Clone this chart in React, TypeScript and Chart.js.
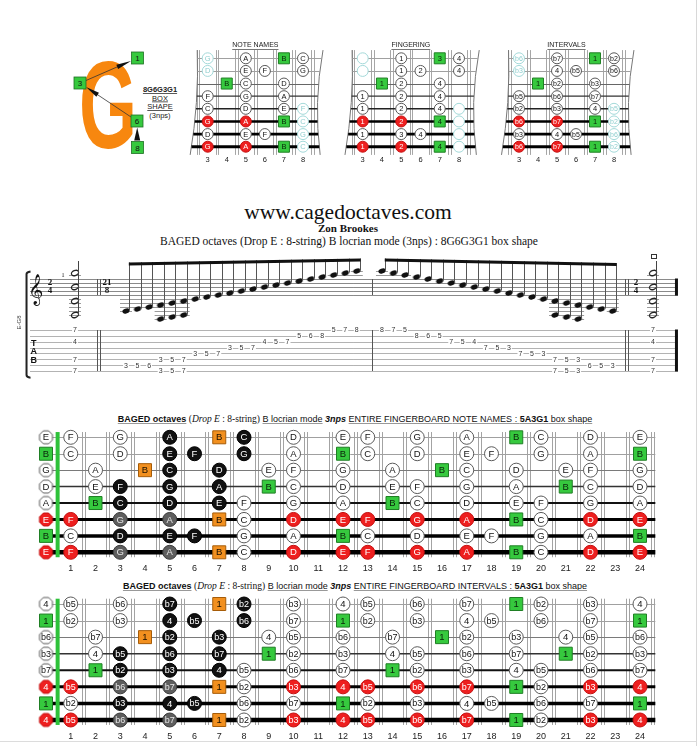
import React, { useEffect, useRef } from "react";
import { Chart, registerables } from "chart.js";

Chart.register(...registerables);

const SANS = "'Liberation Sans', Arial, Helvetica, sans-serif";
const SERIF = "'Liberation Serif', 'Times New Roman', serif";

// ================= WHOLE NECK DATA (string 1 = high E ... string 8 = low E) =================
const FRET_NUMBERS = [1, 2, 3, 4, 5, 6, 7, 8, 9, 10, 11, 12, 13, 14, 15, 16, 17, 18, 19, 20, 21, 22, 23, 24];

const S1_FRETS = [0, 1, 3, 5, 7, 8, 10, 12, 13, 15, 17, 19, 20, 22, 24];
const S1_NOTES = ["E", "F", "G", "A", "B", "C", "D", "E", "F", "G", "A", "B", "C", "D", "E"];
const S1_MARKS = ["w", "w", "w", "k", "o", "k", "w", "w", "w", "w", "w", "g", "w", "w", "w"];

const S2_FRETS = [0, 1, 3, 5, 6, 8, 10, 12, 13, 15, 17, 18, 20, 22, 24];
const S2_NOTES = ["B", "C", "D", "E", "F", "G", "A", "B", "C", "D", "E", "F", "G", "A", "B"];
const S2_MARKS = ["g", "w", "w", "k", "k", "k", "w", "g", "w", "w", "w", "w", "w", "w", "g"];

const S3_FRETS = [0, 2, 4, 5, 7, 9, 10, 12, 14, 16, 17, 19, 21, 22, 24];
const S3_NOTES = ["G", "A", "B", "C", "D", "E", "F", "G", "A", "B", "C", "D", "E", "F", "G"];
const S3_MARKS = ["w", "w", "o", "k", "k", "w", "w", "w", "w", "g", "w", "w", "w", "w", "w"];

const S4_FRETS = [0, 2, 3, 5, 7, 9, 10, 12, 14, 15, 17, 19, 21, 22, 24];
const S4_NOTES = ["D", "E", "F", "G", "A", "B", "C", "D", "E", "F", "G", "A", "B", "C", "D"];
const S4_MARKS = ["w", "w", "k", "k", "k", "g", "w", "w", "w", "w", "w", "w", "g", "w", "w"];

const S5_FRETS = [0, 2, 3, 5, 7, 8, 10, 12, 14, 15, 17, 19, 20, 22, 24];
const S5_NOTES = ["A", "B", "C", "D", "E", "F", "G", "A", "B", "C", "D", "E", "F", "G", "A"];
const S5_MARKS = ["w", "g", "k", "k", "k", "w", "w", "w", "g", "w", "w", "w", "w", "w", "w"];

const S6_FRETS = [0, 1, 3, 5, 7, 8, 10, 12, 13, 15, 17, 19, 20, 22, 24];
const S6_NOTES = ["E", "F", "G", "A", "B", "C", "D", "E", "F", "G", "A", "B", "C", "D", "E"];
const S6_MARKS = ["r", "r", "d", "d", "o", "w", "r", "r", "r", "r", "r", "g", "w", "r", "r"];

const S7_FRETS = [0, 1, 3, 5, 6, 8, 10, 12, 13, 15, 17, 18, 20, 22, 24];
const S7_NOTES = ["B", "C", "D", "E", "F", "G", "A", "B", "C", "D", "E", "F", "G", "A", "B"];
const S7_MARKS = ["g", "w", "k", "k", "k", "w", "w", "g", "w", "w", "w", "w", "w", "w", "g"];

const S8_FRETS = [0, 1, 3, 5, 7, 8, 10, 12, 13, 15, 17, 19, 20, 22, 24];
const S8_NOTES = ["E", "F", "G", "A", "B", "C", "D", "E", "F", "G", "A", "B", "C", "D", "E"];
const S8_MARKS = ["r", "r", "d", "d", "o", "w", "r", "r", "r", "r", "r", "g", "w", "r", "r"];

const NECK_FRETS = [S1_FRETS, S2_FRETS, S3_FRETS, S4_FRETS, S5_FRETS, S6_FRETS, S7_FRETS, S8_FRETS];
const NECK_NOTES = [S1_NOTES, S2_NOTES, S3_NOTES, S4_NOTES, S5_NOTES, S6_NOTES, S7_NOTES, S8_NOTES];
const NECK_MARKS = [S1_MARKS, S2_MARKS, S3_MARKS, S4_MARKS, S5_MARKS, S6_MARKS, S7_MARKS, S8_MARKS];

// B locrian intervals
const INTERVAL_OF: Record<string, string> = { B: "1", C: "b2", D: "b3", E: "4", F: "b5", G: "b6", A: "b7" };

// ================= BOX SHAPE DIAGRAMS (frets 3-8) =================
const BOX_FRET_NUMBERS = [3, 4, 5, 6, 7, 8];
const BOX_FRETS = [[3, 5, 7, 8], [3, 5, 6, 8], [4, 5, 7], [3, 5, 7], [3, 5, 7, 8], [3, 5, 7, 8], [3, 5, 6, 8], [3, 5, 7, 8]];
const BOX_NOTES = [["G", "A", "B", "C"], ["D", "E", "F", "G"], ["B", "C", "D"], ["F", "G", "A"], ["C", "D", "E", "F"], ["G", "A", "B", "C"], ["D", "E", "F", "G"], ["G", "A", "B", "C"]];
const BOX_MARKS = [["f", "w", "g", "w"], ["f", "w", "w", "w"], ["g", "w", "w"], ["w", "w", "w"], ["w", "w", "w", "f"], ["r", "r", "g", "f"], ["w", "w", "w", "f"], ["r", "r", "g", "f"]];
const BOX_FINGERS = [["", "1", "3", "4"], ["", "1", "2", "4"], ["1", "2", "4"], ["1", "2", "4"], ["1", "2", "4", ""], ["1", "2", "4", ""], ["1", "3", "4", ""], ["1", "2", "4", ""]];

// ================= STAFF / TAB DATA =================
const ASC_NOTES = ["D3", "E3", "F3", "G2 G3", "A2 A3", "B2 B3", "C4", "D4", "E4", "F4", "G4", "A4", "B4", "C5", "D5", "E5", "F5", "G5", "A5", "B5", "C6"];
const ASC_TAB = ["7:3", "7:5", "7:6", "8:3 6:3", "8:5 6:5", "8:7 6:7", "5:3", "5:5", "5:7", "4:3", "4:5", "4:7", "3:4", "3:5", "3:7", "2:5", "2:6", "2:8", "1:5", "1:7", "1:8"];
const DESC_NOTES = ["C6", "B5", "A5", "G5", "F5", "E5", "D5", "C5", "B4", "A4", "G4", "F4", "E4", "D4", "C4", "B2 B3", "A2 A3", "G2 G3", "F3", "E3", "D3"];
const DESC_TAB = ["1:8", "1:7", "1:5", "2:8", "2:6", "2:5", "3:7", "3:5", "3:4", "4:7", "4:5", "4:3", "5:7", "5:5", "5:3", "6:7 8:7", "6:5 8:5", "6:3 8:3", "7:6", "7:5", "7:3"];
const CHORD_NOTES = ["B2", "B3", "B4", "B5"];
const CHORD_TAB = "1:7 3:4 6:7 8:7";

// positions along the staff (in eighth-note slots)
const MEASURE2_START = 22.18;
const CHORD_POS = [-4.42, 45.67];
const ASC_BEAM = [46.25, 48.25];
const DESC_BEAM = [48.25, 46.0];

// ================= COLOURS =================
const MARK_FILL: Record<string, string> = { w: "#ffffff", k: "#111111", d: "#5e5e5e", r: "#ee1f1f", g: "#36c93e", o: "#f2901f", f: "#ffffff" };
const MARK_LINE: Record<string, string> = { w: "#5a5a5a", k: "#000000", d: "#3a3a3a", r: "#c41010", g: "#1f7f24", o: "#a65c08", f: "#a3d9d9" };
const MARK_TEXT: Record<string, string> = { w: "#111111", k: "#ffffff", d: "#e6e6e6", r: "#ffffff", g: "#0a240a", o: "#1a1000", f: "#8fcfcf" };

type Pt = { x: number; y: number; label: string; mark: string; open?: boolean };

const BIG_STYLE = {
  r: 7, sq: 13, font: 9.5,
  stringW: [1, 1, 1, 1.5, 2, 3, 3.5, 4.5],
  stringC: ["#a0a0a0", "#a0a0a0", "#7a7a7a", "#333", "#111", "#000", "#000", "#000"],
  fretGap: 3, fretColor: "#a3a3a3",
};
const SMALL_STYLE = {
  r: 5.5, sq: 11, font: 7.5,
  stringW: [1, 1, 1, 1.2, 1.5, 2.5, 2.6, 3],
  stringC: ["#a0a0a0", "#a0a0a0", "#666", "#333", "#222", "#000", "#000", "#000"],
  fretGap: 2.5, fretColor: "#a6a6a6",
};

const octCache: Record<string, HTMLCanvasElement> = {};
function octagon(mark: string, r: number) {
  const key = mark + r;
  if (octCache[key]) return octCache[key];
  const size = Math.ceil(r * 2 + 3);
  const c = document.createElement("canvas");
  c.width = size; c.height = size;
  const g = c.getContext("2d")!;
  g.translate(size / 2, size / 2);
  g.beginPath();
  for (let i = 0; i < 8; i++) {
    const a = Math.PI / 8 + (i * Math.PI) / 4;
    const px = Math.cos(a) * r, py = Math.sin(a) * r;
    if (i === 0) g.moveTo(px, py); else g.lineTo(px, py);
  }
  g.closePath();
  g.fillStyle = MARK_FILL[mark]; g.fill();
  g.lineWidth = 1; g.strokeStyle = MARK_LINE[mark]; g.stroke();
  octCache[key] = c;
  return c;
}

function buildDatasets(points: Pt[], st: any) {
  const order = ["w", "f", "d", "k", "r", "g", "o"];
  return order.map((m) => {
    const square = m === "g" || m === "o";
    return {
      label: m,
      data: points.filter((p) => p.mark === m),
      showLine: false,
      pointStyle: (c: any) => {
        const p = c.raw as Pt | undefined;
        if (square) return "rect";
        if (p && p.open) return octagon(m, st.r);
        return "circle";
      },
      pointRadius: square ? st.sq / Math.SQRT2 : st.r,
      backgroundColor: MARK_FILL[m],
      borderColor: MARK_LINE[m],
      borderWidth: 1,
    };
  });
}

const BASE_OPTIONS = {
  animation: false,
  responsive: false,
  maintainAspectRatio: false,
  events: [],
  layout: { padding: 0, autoPadding: false },
  plugins: { legend: { display: false }, tooltip: { enabled: false }, title: { display: false } },
};

function boardChart(cfg: any) {
  const st = cfg.style;
  const xMin = cfg.fref + (cfg.left - cfg.x0) / cfg.dx;
  const xMax = cfg.fref + (cfg.left + cfg.width - cfg.x0) / cfg.dx;
  const yMin = 1 + (cfg.top - cfg.y0) / cfg.dy;
  const yMax = 1 + (cfg.top + cfg.height - cfg.y0) / cfg.dy;
  const quad = (p: number[][], t: number) =>
    (1 - t) * (1 - t) * p[0][0] + 2 * t * (1 - t) * p[1][0] + t * t * p[2][0];
  const plugin = {
    id: "board",
    beforeDatasetsDraw(chart: any) {
      const ctx = chart.ctx;
      const X = (v: number) => chart.scales.x.getPixelForValue(v);
      const Y = (v: number) => chart.scales.y.getPixelForValue(v);
      ctx.save();
      ctx.lineWidth = 1;
      ctx.strokeStyle = st.fretColor;
      for (const f of cfg.fretLines) {
        const xc = X(f);
        for (const o of [-st.fretGap / 2, st.fretGap / 2]) {
          const xx = Math.round(xc + o) + 0.5;
          ctx.beginPath();
          ctx.moveTo(xx, Y(cfg.fretTop));
          ctx.lineTo(xx, Y(cfg.fretBottom));
          ctx.stroke();
        }
      }
      const span = cfg.fretBottom - cfg.fretTop;
      if (cfg.edges) {
        ctx.strokeStyle = "#777";
        for (const e of cfg.edges) {
          ctx.beginPath();
          ctx.moveTo(X(e[0][0]), Y(e[0][1]));
          ctx.quadraticCurveTo(X(e[1][0]), Y(e[1][1]), X(e[2][0]), Y(e[2][1]));
          ctx.stroke();
        }
      }
      for (let s = 1; s <= 8; s++) {
        const w = st.stringW[s - 1];
        ctx.lineWidth = w;
        ctx.strokeStyle = st.stringC[s - 1];
        let y = Y(s);
        if (w <= 1) y = Math.round(y) + 0.5;
        let from = cfg.stringFrom, to = cfg.stringTo;
        if (cfg.edges) {
          const t = (s - cfg.fretTop) / span;
          from = quad(cfg.edges[0], t);
          to = quad(cfg.edges[1], t);
        }
        ctx.beginPath();
        ctx.moveTo(X(from), y);
        ctx.lineTo(X(to), y);
        ctx.stroke();
      }
      if (cfg.nut != null) {
        ctx.lineWidth = 4;
        ctx.strokeStyle = "#2ec23a";
        ctx.beginPath();
        ctx.moveTo(X(cfg.nut), Y(cfg.fretTop));
        ctx.lineTo(X(cfg.nut), Y(cfg.fretBottom));
        ctx.stroke();
      }
      ctx.restore();
    },
    afterDatasetsDraw(chart: any) {
      const ctx = chart.ctx;
      const X = (v: number) => chart.scales.x.getPixelForValue(v);
      const Y = (v: number) => chart.scales.y.getPixelForValue(v);
      ctx.save();
      ctx.textAlign = "center";
      ctx.textBaseline = "middle";
      chart.data.datasets.forEach((ds: any, i: number) => {
        const meta = chart.getDatasetMeta(i);
        meta.data.forEach((el: any, j: number) => {
          const p = ds.data[j] as Pt;
          if (!p.label) return;
          const fs = p.label.length > 1 ? st.font - 0.5 : st.font;
          ctx.font = `${fs}px ${SANS}`;
          ctx.fillStyle = MARK_TEXT[p.mark];
          ctx.fillText(p.label, el.x, el.y + 0.5);
        });
      });
      ctx.fillStyle = "#222";
      ctx.font = `${cfg.numberFont}px ${SANS}`;
      for (const n of cfg.numbers) ctx.fillText(String(n), X(n), Y(cfg.numberRow));
      if (cfg.title) {
        ctx.font = `${cfg.numberFont - 0.5}px ${SANS}`;
        const tx = X(cfg.titleX), ty = Y(cfg.titleRow);
        ctx.fillStyle = "#222";
        ctx.fillText(cfg.title, tx, ty);
        const w = ctx.measureText(cfg.title).width;
        ctx.strokeStyle = "#777";
        ctx.lineWidth = 1;
        ctx.beginPath();
        ctx.moveTo(tx - w / 2, Math.round(ty + 4) + 0.5);
        ctx.lineTo(tx + w / 2, Math.round(ty + 4) + 0.5);
        ctx.stroke();
      }
      ctx.restore();
    },
  };
  return {
    type: "scatter",
    data: { datasets: buildDatasets(cfg.points, st) },
    options: {
      ...BASE_OPTIONS,
      scales: {
        x: { type: "linear", display: false, min: xMin, max: xMax },
        y: { type: "linear", display: false, min: yMin, max: yMax, reverse: true },
      },
    },
    plugins: [plugin],
  };
}

function neckPoints(useIntervals: boolean): Pt[] {
  const pts: Pt[] = [];
  NECK_FRETS.forEach((frets, s) => {
    frets.forEach((f, k) => {
      const note = NECK_NOTES[s][k];
      pts.push({ x: f, y: s + 1, label: useIntervals ? INTERVAL_OF[note] : note, mark: NECK_MARKS[s][k], open: f === 0 });
    });
  });
  return pts;
}

function boxPoints(kind: string): Pt[] {
  const pts: Pt[] = [];
  BOX_FRETS.forEach((frets, s) => {
    frets.forEach((f, k) => {
      const note = BOX_NOTES[s][k];
      const label = kind === "notes" ? note : kind === "fingers" ? BOX_FINGERS[s][k] : INTERVAL_OF[note];
      pts.push({ x: f, y: s + 1, label, mark: BOX_MARKS[s][k] });
    });
  });
  return pts;
}

function ChartBox({ left, top, width, height, build }: any) {
  const ref = useRef<HTMLCanvasElement>(null);
  useEffect(() => {
    const chart = new Chart(ref.current as HTMLCanvasElement, build());
    return () => chart.destroy();
  }, []);
  return <canvas ref={ref} width={width} height={height} style={{ position: "absolute", left, top, width, height }} />;
}

function bigBoardCfg(top: number, y0: number, dy: number, useIntervals: boolean) {
  return {
    left: 4, top, width: 684, height: 746 - top > 156 ? 156 : 746 - top,
    x0: 46, fref: 0, dx: 24.75, y0, dy,
    style: BIG_STYLE,
    points: neckPoints(useIntervals),
    fretLines: FRET_NUMBERS.map((n) => n + 0.5),
    fretTop: 0.68, fretBottom: 8.3,
    stringFrom: 0, stringTo: 24.62,
    nut: 0.47,
    numbers: FRET_NUMBERS, numberRow: 9, numberFont: 9,
  };
}

function smallBoardCfg(x0: number, dx: number, kind: string, title: string) {
  const left = Math.round(x0 - 1.3 * dx);
  return {
    left, top: 34, width: Math.round(7.9 * dx), height: 132,
    x0, fref: 3, dx, y0: 58.3, dy: 12.63,
    style: SMALL_STYLE,
    points: boxPoints(kind),
    fretLines: [2.5, 3.5, 4.5, 5.5, 6.5, 7.5, 8.5],
    fretTop: 0.35, fretBottom: 8.65,
    edges: [
      [[2.45, 0.35], [2.55, 4.5], [2.08, 8.65]],
      [[9.05, 0.35], [8.55, 4.5], [8.9, 8.65]],
    ],
    numbers: BOX_FRET_NUMBERS, numberRow: 9.05, numberFont: 7.5,
    title, titleX: 5.5, titleRow: -0.05,
  };
}

// ---------------- staff + tab ----------------
const LETTERS = "CDEFGAB";
const dia = (p: string) => LETTERS.indexOf(p[0]) + 7 * parseInt(p.slice(1), 10);
const parseTab = (t: string) => t.split(" ").map((x) => x.split(":").map(Number));

function headImage(filled: boolean) {
  const c = document.createElement("canvas");
  c.width = 10; c.height = 8;
  const g = c.getContext("2d")!;
  g.translate(5, 4);
  g.rotate(-0.38);
  g.beginPath();
  g.ellipse(0, 0, 3.7, 2.5, 0, 0, Math.PI * 2);
  if (filled) { g.fillStyle = "#111"; g.fill(); }
  else { g.lineWidth = 1.2; g.strokeStyle = "#222"; g.stroke(); }
  return c;
}

function staffChart() {
  const TOP = 248, H = 134, W = 700;
  const PX0 = 126, PDX = 11.54;
  const xMin = -PX0 / PDX, xMax = (W - PX0) / PDX;
  const ysMax = 38 + (279 - TOP) / 2, ysMin = 38 - (TOP + H - 279) / 2;
  const TS = 41 / 7;
  const ytMin = 1 + (TOP - 330) / TS, ytMax = 1 + (TOP + H - 330) / TS;

  const events = [
    ...ASC_NOTES.map((n, i) => ({ v: i, d: n.split(" ").map(dia), tab: parseTab(ASC_TAB[i]), g: 0 })),
    ...DESC_NOTES.map((n, j) => ({ v: MEASURE2_START + j, d: n.split(" ").map(dia), tab: parseTab(DESC_TAB[j]), g: 1 })),
  ];
  const chords = CHORD_POS.map((v) => ({ v, d: CHORD_NOTES.map(dia), tab: parseTab(CHORD_TAB) }));

  const heads: any[] = [];
  events.forEach((e) => e.d.forEach((d) => heads.push({ x: e.v, y: d })));
  const hollow: any[] = [];
  chords.forEach((e) => e.d.forEach((d) => hollow.push({ x: e.v, y: d })));
  const tabs: any[] = [];
  [...events, ...chords].forEach((e) => e.tab.forEach(([s, f]) => tabs.push({ x: e.v, y: s, label: String(f) })));

  const LINE_START = -8.32, LINE_END = 47.83;
  const THIN_BARS = [-2.51, -2.29, 21.32, 43.24, 43.5];
  const FINAL_BAR = 47.7;

  const plugin = {
    id: "staff",
    beforeDatasetsDraw(chart: any) {
      const ctx = chart.ctx;
      const X = (v: number) => chart.scales.x.getPixelForValue(v);
      const S = (d: number) => chart.scales.ys.getPixelForValue(d);
      const T = (s: number) => chart.scales.yt.getPixelForValue(s);
      const hl = (x1: number, x2: number, y: number, c: string) => {
        ctx.strokeStyle = c; ctx.lineWidth = 1;
        ctx.beginPath(); ctx.moveTo(x1, Math.round(y) + 0.5); ctx.lineTo(x2, Math.round(y) + 0.5); ctx.stroke();
      };
      const vl = (x: number, y1: number, y2: number, c: string, w = 1) => {
        ctx.strokeStyle = c; ctx.lineWidth = w;
        const xx = w === 1 ? Math.round(x) + 0.5 : x;
        ctx.beginPath(); ctx.moveTo(xx, y1); ctx.lineTo(xx, y2); ctx.stroke();
      };
      ctx.save();
      for (const d of [30, 32, 34, 36, 38]) hl(X(LINE_START), X(LINE_END), S(d), "#8a8a8a");
      for (let s = 1; s <= 8; s++) hl(X(LINE_START), X(LINE_END), T(s), "#b3b3b3");
      // ledger lines
      for (const e of [...events, ...chords]) {
        for (const d of e.d) {
          for (let l = 28; l >= d; l -= 2) hl(X(e.v) - 6, X(e.v) + 6, S(l), "#9a9a9a");
          for (let l = 40; l <= d; l += 2) hl(X(e.v) - 6, X(e.v) + 6, S(l), "#9a9a9a");
        }
      }
      // bar lines
      for (const b of THIN_BARS) {
        vl(X(b), S(38), S(30), "#555");
        vl(X(b), T(1), T(8), "#555");
      }
      vl(X(FINAL_BAR), S(38) - 0.5, S(30) + 0.5, "#111", 3);
      vl(X(FINAL_BAR), T(1) - 0.5, T(8) + 0.5, "#111", 3);
      // bracket
      const bx = X(-8.62);
      ctx.strokeStyle = "#222"; ctx.lineWidth = 2;
      ctx.beginPath();
      ctx.moveTo(bx + 4, S(41.8));
      ctx.quadraticCurveTo(bx, S(41.5), bx, S(40.5));
      ctx.lineTo(bx, T(8.7));
      ctx.quadraticCurveTo(bx, T(9.1), bx + 4, T(9.15));
      ctx.stroke();
      // clef
      ctx.fillStyle = "#111";
      ctx.textAlign = "center";
      ctx.textBaseline = "alphabetic";
      ctx.font = `26px 'DejaVu Sans', 'Noto Sans', serif`;
      ctx.fillText("\u{1D11E}", X(-7.8), S(28.5));
      // time signatures
      ctx.textBaseline = "middle";
      ctx.font = `bold 9px ${SERIF}`;
      const tsig = (v: number, a: string, b: string) => {
        ctx.fillText(a, X(v), S(36));
        ctx.fillText(b, X(v), S(32));
      };
      tsig(-6.59, "2", "4");
      tsig(-1.65, "21", "8");
      tsig(44.19, "2", "4");
      // measure number
      ctx.font = `6px ${SERIF}`;
      ctx.fillText("1", X(-5.46), S(40));
      // TAB letters
      ctx.font = `bold 9px ${SANS}`;
      ctx.fillText("T", X(-8.0), T(3.3));
      ctx.fillText("A", X(-8.0), T(4.75));
      ctx.fillText("B", X(-8.0), T(6.2));
      // tuning label
      ctx.save();
      ctx.translate(X(-9.2), T(-0.3));
      ctx.rotate(-Math.PI / 2);
      ctx.font = `6px ${SANS}`;
      ctx.fillStyle = "#444";
      ctx.fillText("E-G8", 0, 0);
      ctx.restore();
      ctx.restore();
    },
    afterDatasetsDraw(chart: any) {
      const ctx = chart.ctx;
      const X = (v: number) => chart.scales.x.getPixelForValue(v);
      const S = (d: number) => chart.scales.ys.getPixelForValue(d);
      const T = (s: number) => chart.scales.yt.getPixelForValue(s);
      ctx.save();
      // stems + beams
      const groups = [events.filter((e) => e.g === 0), events.filter((e) => e.g === 1)];
      const beams = [ASC_BEAM, DESC_BEAM];
      groups.forEach((grp, gi) => {
        const xa = X(grp[0].v) + 3.3, xb = X(grp[grp.length - 1].v) + 3.3;
        const ya = S(beams[gi][0]), yb = S(beams[gi][1]);
        const beamY = (x: number) => ya + ((x - xa) / (xb - xa)) * (yb - ya);
        ctx.strokeStyle = "#555"; ctx.lineWidth = 1;
        for (const e of grp) {
          const x = Math.round(X(e.v) + 3.3) + 0.5;
          ctx.beginPath();
          ctx.moveTo(x, S(Math.min(...e.d)) - 0.5);
          ctx.lineTo(x, beamY(x));
          ctx.stroke();
        }
        ctx.fillStyle = "#111";
        ctx.beginPath();
        ctx.moveTo(xa - 0.5, ya); ctx.lineTo(xb + 0.5, yb);
        ctx.lineTo(xb + 0.5, yb + 3); ctx.lineTo(xa - 0.5, ya + 3);
        ctx.closePath(); ctx.fill();
      });
      // half-note chord stems
      ctx.strokeStyle = "#444"; ctx.lineWidth = 1;
      for (const c of chords) {
        const x = Math.round(X(c.v) + 3.3) + 0.5;
        ctx.beginPath(); ctx.moveTo(x, S(Math.min(...c.d))); ctx.lineTo(x, S(47)); ctx.stroke();
      }
      // bow mark above last chord
      const bx = X(CHORD_POS[1]) + 1, by = S(49.5);
      ctx.strokeStyle = "#333"; ctx.lineWidth = 1;
      ctx.strokeRect(Math.round(bx - 3) + 0.5, Math.round(by - 2) + 0.5, 5, 4);
      // tab numbers
      ctx.font = `7px ${SANS}`;
      ctx.textAlign = "center";
      ctx.textBaseline = "middle";
      for (const t of tabs) {
        const x = X(t.x), y = T(t.y);
        const w = ctx.measureText(t.label).width + 2;
        ctx.fillStyle = "#fff";
        ctx.fillRect(x - w / 2, y - 3.5, w, 7);
        ctx.fillStyle = "#333";
        ctx.fillText(t.label, x, y + 0.5);
      }
      ctx.restore();
    },
  };

  return {
    type: "scatter",
    data: {
      datasets: [
        { label: "notes", data: heads, yAxisID: "ys", pointStyle: headImage(true), pointRadius: 4, showLine: false },
        { label: "chord", data: hollow, yAxisID: "ys", pointStyle: headImage(false), pointRadius: 4, showLine: false },
        { label: "tab", data: tabs, yAxisID: "yt", pointRadius: 0, showLine: false },
      ],
    },
    options: {
      ...BASE_OPTIONS,
      scales: {
        x: { type: "linear", display: false, min: xMin, max: xMax },
        ys: { type: "linear", axis: "y", display: false, min: ysMin, max: ysMax },
        yt: { type: "linear", axis: "y", display: false, min: ytMin, max: ytMax, reverse: true },
      },
    },
    plugins: [plugin],
  };
}

function arrowHead(x1: number, y1: number, x2: number, y2: number, len: number, hw: number) {
  const dx = x2 - x1, dy = y2 - y1;
  const l = Math.hypot(dx, dy);
  const ux = dx / l, uy = dy / l;
  const bx = x2 - ux * len, by = y2 - uy * len;
  return `${x2},${y2} ${bx - uy * hw},${by + ux * hw} ${bx + uy * hw},${by - ux * hw}`;
}

function Logo() {
  const boxes: [string, number, number][] = [["1", 137.5, 58], ["3", 80, 83], ["6", 137, 121], ["8", 137.5, 147.5]];
  return (
    <svg width={200} height={170} style={{ position: "absolute", left: 0, top: 0 }}>
      <text x={79} y={148} fontFamily="'Liberation Sans', Arial" fontWeight="bold" fontSize={124} fill="#f7870f" textLength={58} lengthAdjust="spacingAndGlyphs">G</text>
      <line x1={86} y1={80.5} x2={125} y2={63.5} stroke="#333" strokeWidth={0.8} />
      <polygon points={arrowHead(86, 80.5, 131, 61, 15, 2.3)} fill="#111" />
      <line x1={131} y1={117} x2={92} y2={91} stroke="#333" strokeWidth={0.8} />
      <polygon points={arrowHead(131, 117, 86, 87, 14, 2.3)} fill="#111" />
      <polygon points={arrowHead(137.2, 141, 137.2, 127.5, 13, 3)} fill="#111" />
      {boxes.map(([t, x, y]) => (
        <g key={t}>
          <rect x={x - 6} y={y - 6} width={12} height={12} fill="#36c93e" stroke="#1f6f24" strokeWidth={0.8} />
          <text x={x} y={y + 3} textAnchor="middle" fontFamily={SANS} fontSize={8} fill="#111">{t}</text>
        </g>
      ))}
      <g fontFamily={SANS} fontSize={7.5} fill="#222" textAnchor="middle">
        <text x={160} y={92} fontWeight="bold" textDecoration="underline">8G6G3G1</text>
        <text x={160} y={100.5} textDecoration="underline">BOX</text>
        <text x={160} y={109} textDecoration="underline">SHAPE</text>
        <text x={160} y={117.5}>(3nps)</text>
      </g>
    </svg>
  );
}

function BigTitle({ top, kind }: { top: number; kind: string }) {
  const u: any = { textDecoration: "underline", textDecorationColor: "#999" };
  return (
    <div style={{ position: "absolute", left: 0, top, width: 710, textAlign: "center", fontFamily: SANS, fontSize: 9, lineHeight: "11px", color: "#111", whiteSpace: "nowrap" }}>
      <span style={{ ...u, fontWeight: "bold" }}>BAGED octaves</span>{" "}
      <span style={{ fontFamily: SERIF, fontSize: 9.5 }}>(<i>Drop E</i> : 8-string)</span>{" "}
      <span style={u}>B locrian mode</span>{" "}
      <b><i>3nps</i></b>{" "}
      <span style={u}>ENTIRE FINGERBOARD {kind} : <b>5A3G1</b> box shape</span>
    </div>
  );
}

export default function App() {
  return (
    <div style={{ position: "absolute", left: 0, top: 0, width: 700, height: 746, background: "#fff", overflow: "hidden" }}>
      <Logo />
      <ChartBox {...smallBoardCfg(207.7, 19.06, "notes", "NOTE NAMES")} build={() => boardChart(smallBoardCfg(207.7, 19.06, "notes", "NOTE NAMES"))} />
      <ChartBox {...smallBoardCfg(362.7, 19.26, "fingers", "FINGERING")} build={() => boardChart(smallBoardCfg(362.7, 19.26, "fingers", "FINGERING"))} />
      <ChartBox {...smallBoardCfg(519, 19.0, "intervals", "INTERVALS")} build={() => boardChart(smallBoardCfg(519, 19.0, "intervals", "INTERVALS"))} />

      <div style={{ position: "absolute", left: 0, top: 200, width: 696, textAlign: "center", fontFamily: SERIF, fontSize: 21.5, lineHeight: "24px", color: "#111" }}>www.cagedoctaves.com</div>
      <div style={{ position: "absolute", left: 0, top: 222, width: 696, textAlign: "center", fontFamily: SERIF, fontSize: 11, fontWeight: "bold", lineHeight: "12px", color: "#111" }}>Zon Brookes</div>
      <div style={{ position: "absolute", left: 0, top: 235, width: 698, textAlign: "center", fontFamily: SERIF, fontSize: 11.5, lineHeight: "13px", color: "#111" }}>BAGED octaves (Drop E : 8-string) B locrian mode (3nps) : 8G6G3G1 box shape</div>

      <ChartBox left={0} top={248} width={700} height={134} build={staffChart} />

      <BigTitle top={414} kind="NOTE NAMES" />
      <ChartBox {...bigBoardCfg(424, 437.3, 16.43, false)} build={() => boardChart(bigBoardCfg(424, 437.3, 16.43, false))} />

      <BigTitle top={581} kind="INTERVALS" />
      <ChartBox {...bigBoardCfg(591, 604, 16.57, true)} build={() => boardChart(bigBoardCfg(591, 604, 16.57, true))} />

      <div style={{ position: "absolute", left: 696, top: 0, width: 1, height: 746, background: "#d8d8d8" }} />
      <div style={{ position: "absolute", left: 0, top: 741, width: 696, height: 1, background: "#dcdcdc" }} />
    </div>
  );
}
